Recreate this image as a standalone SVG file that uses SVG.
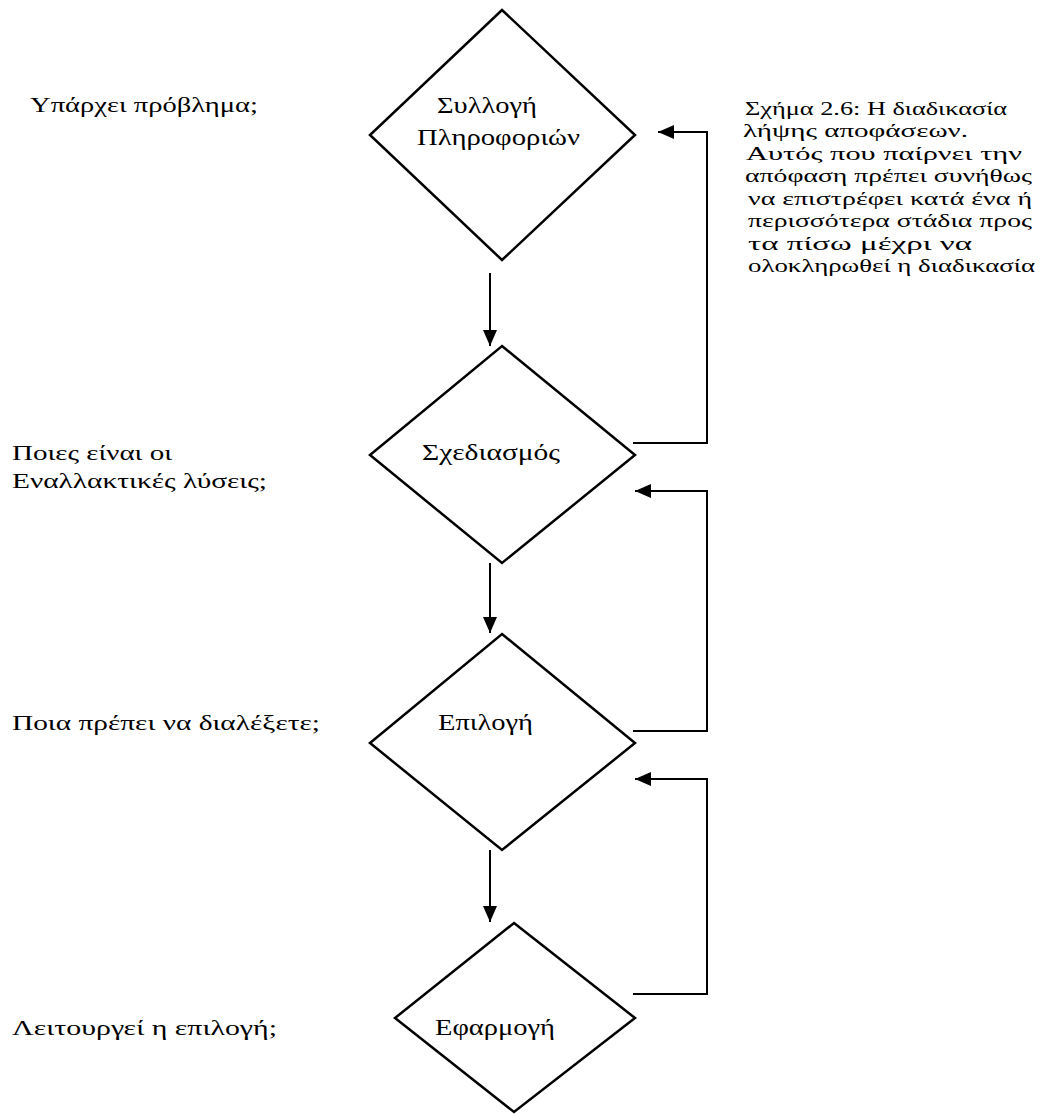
<svg xmlns="http://www.w3.org/2000/svg" width="1042" height="1114" viewBox="0 0 1042 1114">
  <style>
    .bg { fill: #ffffff; }
    .shape { fill: #ffffff; stroke: #000000; stroke-width: 2.5; stroke-linejoin: miter; }
    .link { fill: none; stroke: #000000; stroke-width: 2; }
    text { font-family: "Liberation Serif", "DejaVu Serif", "Times New Roman", serif; fill: #000000; }
    .label { font-size: 24px; }
    .note { font-size: 22px; }
    .caption { font-size: 18px; }
  </style>
  <defs>
    <marker id="arrow" markerUnits="userSpaceOnUse" markerWidth="17" markerHeight="14" refX="16" refY="7" orient="auto">
      <path d="M0,0 L16,7 L0,14 Z" fill="#000000"/>
    </marker>
  </defs>

  <rect class="bg" x="0" y="0" width="1042" height="1114"/>

  <!-- decision stages -->
  <g id="node-syllogi">
    <polygon class="shape" points="502,10 635,135 502,260 370,135"/>
    <text class="label" x="437" y="113" textLength="100" lengthAdjust="spacingAndGlyphs">Συλλογή</text>
    <text class="label" x="417" y="145" textLength="163" lengthAdjust="spacingAndGlyphs">Πληροφοριών</text>
  </g>
  <g id="node-sxediasmos">
    <polygon class="shape" points="502,346 635,455 502,563 370,455"/>
    <text class="label" x="422" y="460" textLength="138" lengthAdjust="spacingAndGlyphs">Σχεδιασμός</text>
  </g>
  <g id="node-epilogi">
    <polygon class="shape" points="502,634 635,743 502,850 370,743"/>
    <text class="label" x="438" y="730" textLength="95" lengthAdjust="spacingAndGlyphs">Επιλογή</text>
  </g>
  <g id="node-efarmogi">
    <polygon class="shape" points="514,923 635,1018 514,1112 395,1018"/>
    <text class="label" x="435" y="1035" textLength="120" lengthAdjust="spacingAndGlyphs">Εφαρμογή</text>
  </g>

  <!-- questions beside each stage -->
  <g id="questions">
    <text class="note" x="30" y="112" textLength="228" lengthAdjust="spacingAndGlyphs">Υπάρχει πρόβλημα;</text>
    <text class="note" x="12" y="460" textLength="160" lengthAdjust="spacingAndGlyphs">Ποιες είναι οι</text>
    <text class="note" x="12" y="488" textLength="255" lengthAdjust="spacingAndGlyphs">Εναλλακτικές λύσεις;</text>
    <text class="note" x="12" y="730" textLength="308" lengthAdjust="spacingAndGlyphs">Ποια πρέπει να διαλέξετε;</text>
    <text class="note" x="12" y="1035" textLength="265" lengthAdjust="spacingAndGlyphs">Λειτουργεί η επιλογή;</text>
  </g>

  <!-- figure caption -->
  <g id="caption">
    <text class="caption" x="745" y="115" textLength="262" lengthAdjust="spacingAndGlyphs">Σχήμα 2.6: Η διαδικασία</text>
    <text class="caption" x="743" y="137" textLength="225" lengthAdjust="spacingAndGlyphs">λήψης αποφάσεων.</text>
    <text class="caption" x="746" y="160" textLength="276" lengthAdjust="spacingAndGlyphs">Αυτός που παίρνει την</text>
    <text class="caption" x="745" y="182" textLength="287" lengthAdjust="spacingAndGlyphs">απόφαση πρέπει συνήθως</text>
    <text class="caption" x="748" y="205" textLength="284" lengthAdjust="spacingAndGlyphs">να επιστρέφει κατά ένα ή</text>
    <text class="caption" x="748" y="227" textLength="284" lengthAdjust="spacingAndGlyphs">περισσότερα στάδια προς</text>
    <text class="caption" x="748" y="250" textLength="224" lengthAdjust="spacingAndGlyphs">τα πίσω μέχρι να</text>
    <text class="caption" x="748" y="272" textLength="287" lengthAdjust="spacingAndGlyphs">ολοκληρωθεί η διαδικασία</text>
  </g>

  <!-- connectors -->
  <g id="connectors">
    <path class="link" d="M490,273 L490,346" marker-end="url(#arrow)"/>
    <path class="link" d="M490,563 L490,633" marker-end="url(#arrow)"/>
    <path class="link" d="M490,850 L490,922" marker-end="url(#arrow)"/>
    <path class="link" d="M633,443 L707,443 L707,132 L658,132" marker-end="url(#arrow)"/>
    <path class="link" d="M633,731 L707,731 L707,491 L635,491" marker-end="url(#arrow)"/>
    <path class="link" d="M633,994 L707,994 L707,779 L635,779" marker-end="url(#arrow)"/>
  </g>
</svg>
